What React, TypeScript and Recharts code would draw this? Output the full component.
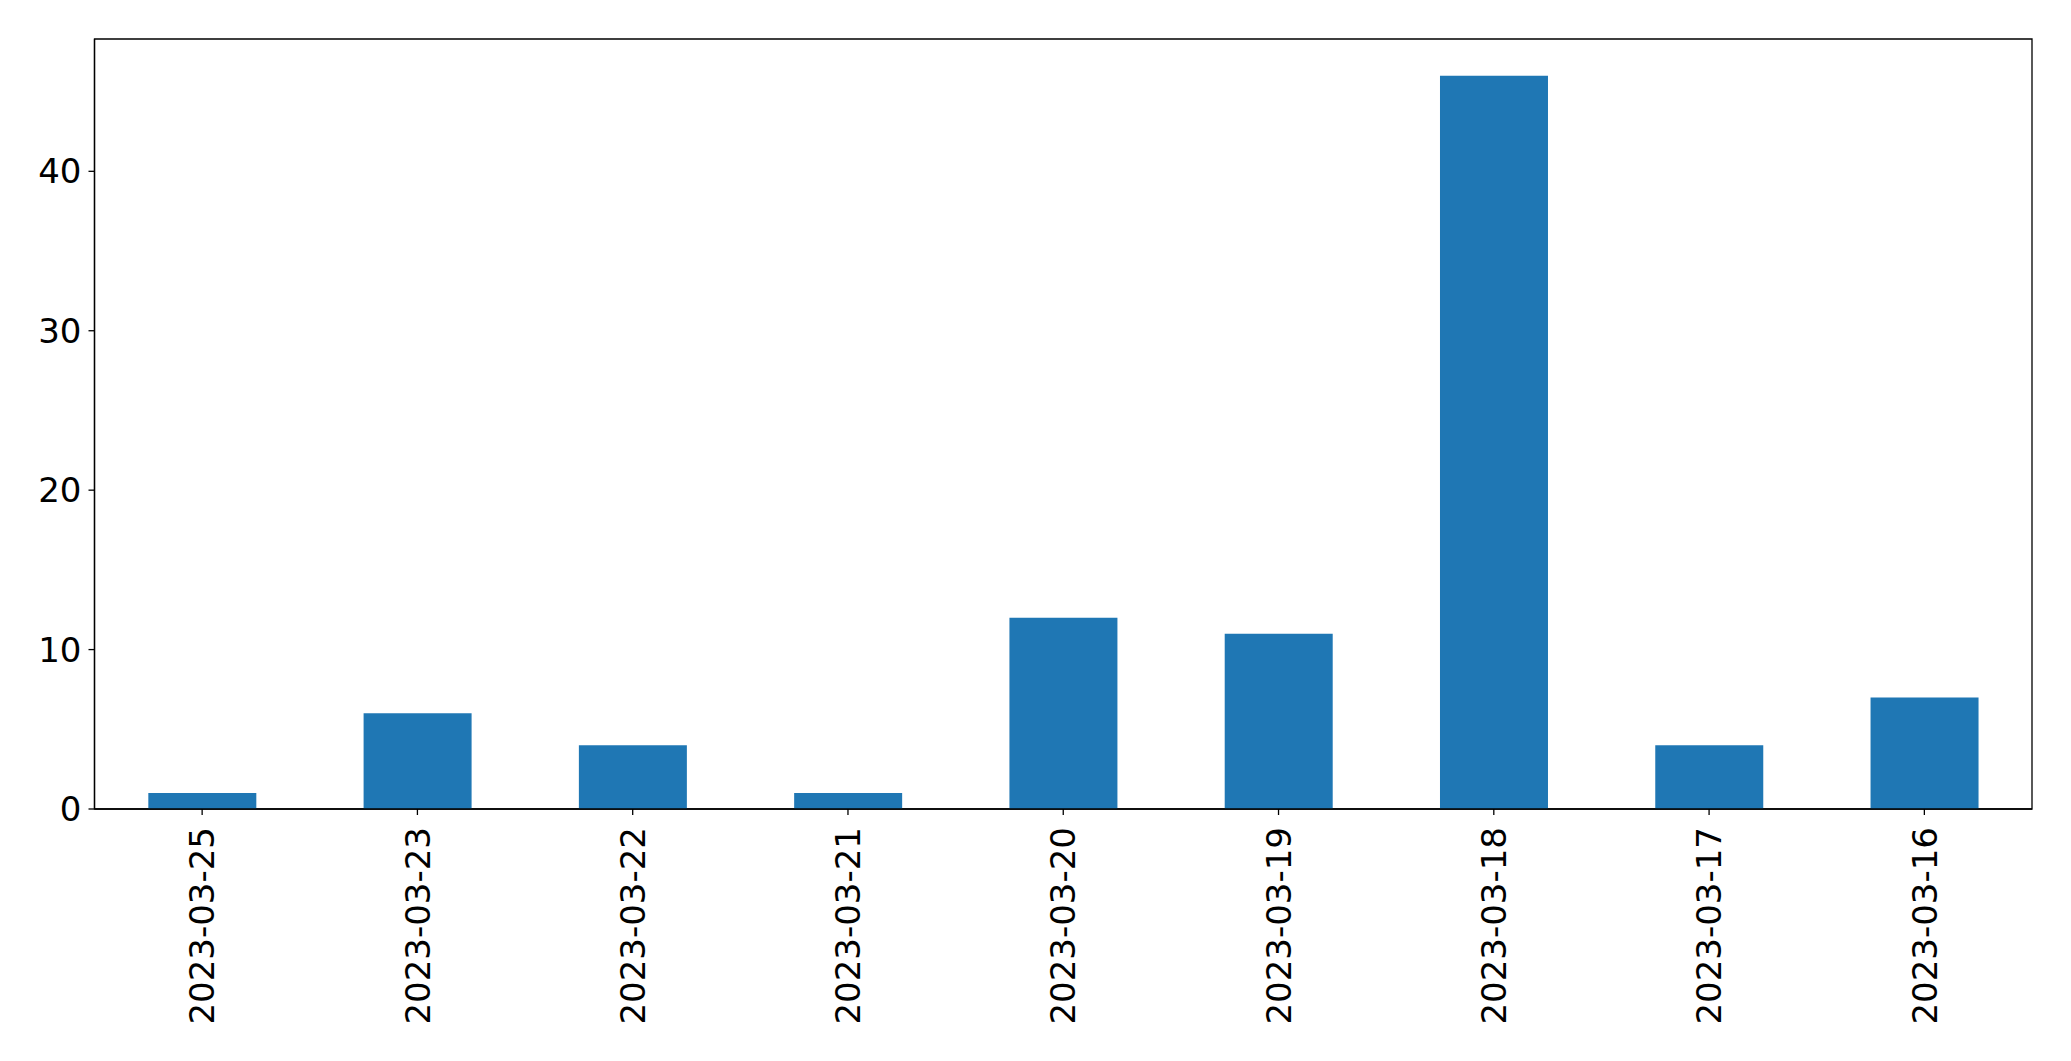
import { Bar, BarChart, ReferenceArea, XAxis, YAxis } from "recharts";

const dates = [
  "2023-03-25",
  "2023-03-23",
  "2023-03-22",
  "2023-03-21",
  "2023-03-20",
  "2023-03-19",
  "2023-03-18",
  "2023-03-17",
  "2023-03-16",
];
const counts = [1, 6, 4, 1, 12, 11, 46, 4, 7];
const yTicks = [0, 10, 20, 30, 40];
const yMax = 48.3;

const data = dates.map((date, i) => ({ date, count: counts[i] }));

const FONT = "'DejaVu Sans', sans-serif";
const FS = 34;

function DateTick(props: any) {
  const { x, y, payload } = props;
  return (
    <text
      x={x}
      y={y}
      transform={`rotate(-90, ${x}, ${y})`}
      textAnchor="end"
      dy="0.36em"
      fontFamily={FONT}
      fontSize={FS}
      fill="#000"
    >
      {payload.value}
    </text>
  );
}

export default function App() {
  return (
    <div style={{ position: "absolute", left: 0, top: 0, background: "#fff" }}>
      <BarChart
        width={2071}
        height={1061}
        data={data}
        margin={{ top: 39, right: 39, left: 0, bottom: 0 }}
        barCategoryGap="25%"
      >
        <XAxis
          dataKey="date"
          height={252}
          interval={0}
          tick={<DateTick />}
          tickSize={6}
          tickMargin={12}
          axisLine={{ stroke: "#000", strokeWidth: 1.3 }}
          tickLine={{ stroke: "#000", strokeWidth: 1.3 }}
        />
        <YAxis
          width={94.5}
          domain={[0, yMax]}
          ticks={yTicks}
          tickSize={6}
          tickMargin={7}
          tick={{ fill: "#000", fontFamily: FONT, fontSize: FS }}
          axisLine={{ stroke: "#000", strokeWidth: 1.3 }}
          tickLine={{ stroke: "#000", strokeWidth: 1.3 }}
        />
        <Bar dataKey="count" fill="#1f77b4" isAnimationActive={false} />
        <ReferenceArea
          y1={0}
          y2={yMax}
          fill="none"
          fillOpacity={0}
          stroke="#000"
          strokeWidth={1.3}
          ifOverflow="visible"
        />
      </BarChart>
    </div>
  );
}
